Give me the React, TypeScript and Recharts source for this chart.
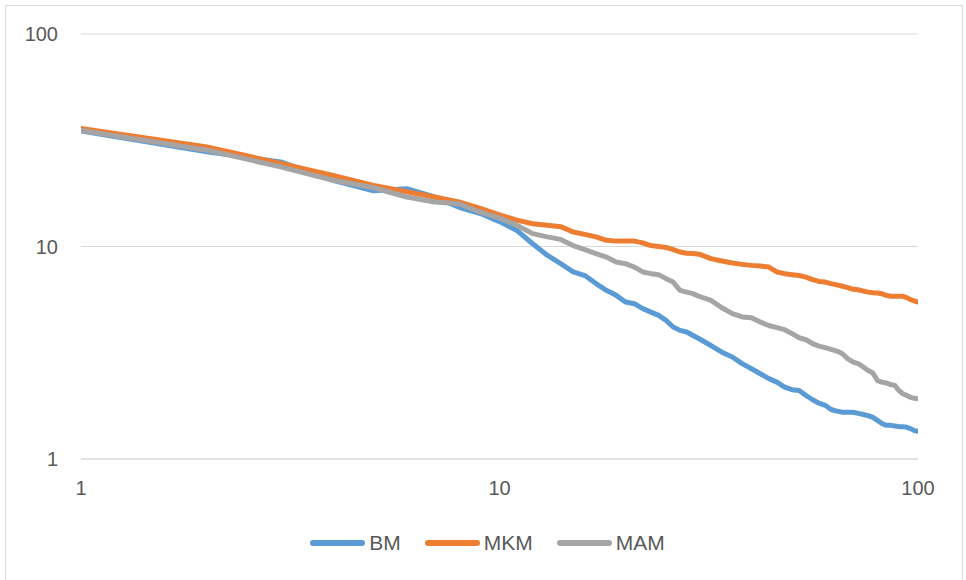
import { CartesianGrid, Legend, Line, LineChart, XAxis, YAxis } from "recharts";

const xValues = [
  1, 2, 3, 4, 5, 6, 7, 8, 9, 10, 11, 12, 13, 14, 15, 16, 17, 18, 19, 20, 21,
  22, 23, 24, 25, 26, 27, 28, 29, 30, 32, 34, 36, 38, 40, 42, 44, 46, 48, 50,
  52, 54, 56, 58, 60, 62, 64, 66, 68, 70, 72, 74, 76, 78, 80, 82, 84, 86, 88,
  90, 92, 94, 96, 98, 100,
];

const bm = [
  35.0, 27.9, 25.0, 20.5, 18.3, 18.7, 17.1, 15.3, 14.3, 13.1, 11.9, 10.3, 9.1,
  8.3, 7.6, 7.3, 6.69, 6.22, 5.89, 5.48, 5.38, 5.1, 4.91, 4.74, 4.49, 4.18,
  4.03, 3.96, 3.81, 3.68, 3.42, 3.18, 3.02, 2.81, 2.66, 2.52, 2.39, 2.3, 2.18,
  2.12, 2.1, 1.99, 1.9, 1.83, 1.79, 1.71, 1.68, 1.66, 1.66, 1.66, 1.64, 1.62,
  1.6, 1.57, 1.52, 1.47, 1.44, 1.44, 1.43, 1.42, 1.42, 1.41, 1.39, 1.36, 1.35,
];

const mkm = [
  35.9, 29.4, 24.6, 21.6, 19.4, 18.1, 17.1, 16.2, 15.1, 14.1, 13.3, 12.8, 12.6,
  12.4, 11.7, 11.4, 11.1, 10.7, 10.6, 10.6, 10.6, 10.4, 10.1, 10.0, 9.9, 9.67,
  9.42, 9.3, 9.26, 9.2, 8.77, 8.55, 8.36, 8.24, 8.15, 8.1, 8.0, 7.59, 7.45,
  7.37, 7.3, 7.18, 6.98, 6.85, 6.8, 6.69, 6.6, 6.5, 6.4, 6.29, 6.26, 6.17, 6.1,
  6.06, 6.04, 5.99, 5.89, 5.83, 5.83, 5.83, 5.83, 5.75, 5.62, 5.54, 5.48,
];

const mam = [
  35.2, 28.4, 23.7, 20.5, 18.9, 17.1, 16.2, 15.9, 14.5, 13.6, 12.6, 11.5, 11.1,
  10.8, 10.1, 9.67, 9.26, 8.92, 8.45, 8.3, 8.0, 7.59, 7.45, 7.37, 7.06, 6.8,
  6.22, 6.1, 6.0, 5.82, 5.58, 5.15, 4.83, 4.66, 4.62, 4.41, 4.25, 4.15, 4.06,
  3.89, 3.72, 3.64, 3.49, 3.4, 3.34, 3.28, 3.22, 3.13, 2.96, 2.86, 2.81, 2.71,
  2.61, 2.54, 2.34, 2.3, 2.28, 2.24, 2.22, 2.1, 2.03, 1.99, 1.95, 1.93, 1.92,
];

const seriesNames = ["BM", "MKM", "MAM"];
const axisTicks = [1, 10, 100];

const data = xValues.map((x, i) => ({ x, BM: bm[i], MKM: mkm[i], MAM: mam[i] }));

const font = "'Liberation Sans', Arial, sans-serif";
const textColor = "#595959";

function LegendRow({ payload }: any) {
  // keep series order instead of the alphabetical order recharts hands over
  const items = [...(payload || [])].sort(
    (a: any, b: any) => seriesNames.indexOf(a.value) - seriesNames.indexOf(b.value)
  );
  return (
    <div
      style={{
        display: "flex",
        justifyContent: "center",
        alignItems: "center",
        gap: 24,
        fontFamily: font,
        fontSize: 21,
        color: textColor,
        lineHeight: "24px",
      }}
    >
      {items.map((entry: any) => (
        <div key={entry.value} style={{ display: "flex", alignItems: "center" }}>
          <span
            style={{
              display: "inline-block",
              width: 55,
              height: 6,
              borderRadius: 3,
              background: entry.color,
              marginRight: 4,
            }}
          />
          <span>{entry.value}</span>
        </div>
      ))}
    </div>
  );
}

export default function App() {
  return (
    <div style={{ position: "absolute", left: 0, top: 0, width: 966, height: 580, background: "#fff" }}>
      <div
        style={{
          position: "absolute",
          left: 5,
          top: 5,
          width: 958,
          height: 580,
          border: "1px solid #d9d9d9",
          boxSizing: "border-box",
        }}
      />
      <div style={{ position: "absolute", left: 0, top: 0 }}>
        <LineChart
          width={966}
          height={580}
          data={data}
          margin={{ top: 34, right: 48, left: 0, bottom: 91 }}
        >
          <CartesianGrid vertical={false} stroke="#d9d9d9" strokeWidth={1} />
          <XAxis
            dataKey="x"
            type="number"
            scale="log"
            domain={[1, 100]}
            ticks={axisTicks}
            height={30}
            axisLine={{ stroke: "#d9d9d9" }}
            tickLine={false}
            tickSize={6}
            tickMargin={16}
            tick={{ fill: textColor, fontSize: 20, fontFamily: font }}
            allowDataOverflow
          />
          <YAxis
            type="number"
            scale="log"
            domain={[1, 100]}
            ticks={axisTicks}
            width={81}
            axisLine={false}
            tickLine={false}
            tickSize={6}
            tickMargin={17}
            tick={{ fill: textColor, fontSize: 20, fontFamily: font }}
            allowDataOverflow
          />
          <Legend
            layout="horizontal"
            verticalAlign="middle"
            align="center"
            content={<LegendRow />}
            wrapperStyle={{ position: "absolute", top: 531, left: 0, width: 975 }}
          />
          <Line
            dataKey="BM"
            stroke="#5B9BD5"
            strokeWidth={5}
            strokeLinecap="round"
            strokeLinejoin="round"
            dot={false}
            isAnimationActive={false}
          />
          <Line
            dataKey="MKM"
            stroke="#ED7D31"
            strokeWidth={5}
            strokeLinecap="round"
            strokeLinejoin="round"
            dot={false}
            isAnimationActive={false}
          />
          <Line
            dataKey="MAM"
            stroke="#A5A5A5"
            strokeWidth={5}
            strokeLinecap="round"
            strokeLinejoin="round"
            dot={false}
            isAnimationActive={false}
          />
        </LineChart>
      </div>
    </div>
  );
}
